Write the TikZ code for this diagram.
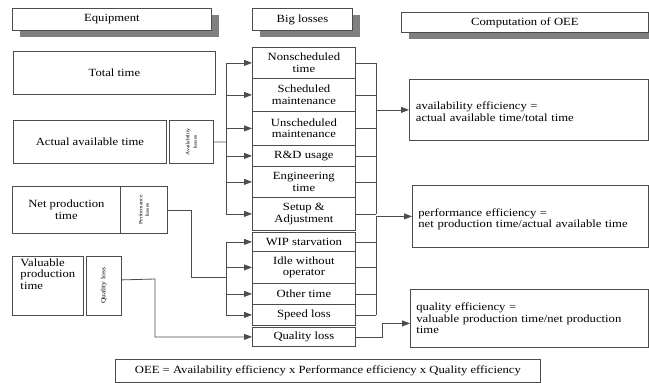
\documentclass[tikz,border=0pt]{standalone}
\usepackage{fontspec}
\setmainfont{Liberation Serif}[FakeStretch=1.15]
\usetikzlibrary{arrows.meta,shadows}

\begin{document}
\begin{tikzpicture}
  [x=1pt,y=-1pt,
   every node/.style={draw=black!70,line width=.8pt,inner sep=0pt,anchor=north west,
     font=\fontsize{11}{11.5}\selectfont,text=black,align=center},
   head/.style={fill=white,drop shadow={shadow xshift=8pt,shadow yshift=-7pt,fill=black!50,opacity=1}},
   tiny/.style={font=\fontsize{5}{5.5}\selectfont},
   arr/.style={draw=black!70,line width=.8pt,-{Triangle[length=8pt,width=6pt]}},
   ln/.style={draw=black!70,line width=.8pt}]
  \useasboundingbox (0,0) rectangle (649,383);

  % headers
  \node[head,minimum width=199pt,minimum height=22pt] (eqp) at (12,8) {Equipment};
  \node[head,minimum width=100pt,minimum height=22pt] (big) at (252,8) {Big losses};
  \node[head,minimum width=247pt,minimum height=20pt] (comp) at (401,12) {Computation of OEE};

  % equipment times
  \node[minimum width=202pt,minimum height=43pt] (tot) at (13,51) {Total time};
  \node[minimum width=153pt,minimum height=43pt] (aat) at (13,120) {Actual available time};
  \node[minimum width=44pt,minimum height=43pt,tiny] (avl) at (169,120)
    {\rotatebox{90}{\shortstack{Availability\\losses}}};
  \node[minimum width=108pt,minimum height=47pt] (npt) at (12,186) {Net production\\time};
  \node[minimum width=47pt,minimum height=47pt,tiny] (pfl) at (120,186)
    {\rotatebox{90}{\shortstack{Performance\\losses}}};
  \node[minimum width=71pt,minimum height=59pt,align=left,text depth=24pt] (vpt) at (12,256)
    {Valuable\\production\\time};
  \node[minimum width=35pt,minimum height=59pt,font=\fontsize{6.5}{6.5}\selectfont] (qll) at (86,256)
    {\rotatebox{90}{Quality loss}};

  % big losses
  \node[minimum width=103pt,minimum height=31pt] (nst) at (252,47) {Nonscheduled\\time};
  \node[minimum width=103pt,minimum height=33pt] (smt) at (252,78) {Scheduled\\maintenance};
  \node[minimum width=103pt,minimum height=34pt] (umt) at (252,111) {Unscheduled\\maintenance};
  \node[minimum width=103pt,minimum height=21pt] (rdu) at (252,145) {R\&D usage};
  \node[minimum width=103pt,minimum height=31pt] (eng) at (252,166) {Engineering\\time};
  \node[minimum width=103pt,minimum height=33pt] (set) at (252,197) {Setup \&\\Adjustment};
  \node[minimum width=103pt,minimum height=19pt] (wip) at (252,232) {WIP starvation};
  \node[minimum width=103pt,minimum height=32pt] (idl) at (252,251) {Idle without\\operator};
  \node[minimum width=103pt,minimum height=21pt] (oth) at (252,283) {Other time};
  \node[minimum width=103pt,minimum height=21pt] (spd) at (252,304) {Speed loss};
  \node[minimum width=103pt,minimum height=19pt] (qlo) at (252,327) {Quality loss};

  % efficiencies
  \node[minimum width=239pt,minimum height=61pt,align=left,text width=226pt,text depth=8pt] (aeff) at (409,79)
    {availability efficiency =\\actual available time/total time};
  \node[minimum width=236pt,minimum height=62pt,align=left,text width=224pt,text depth=8pt] (peff) at (412,185)
    {performance efficiency =\\net production time/actual available time};
  \node[minimum width=238pt,minimum height=58pt,align=left,text width=226pt] (qeff) at (410,289)
    {quality efficiency =\\valuable production time/net production\\time};
  \node[minimum width=425pt,minimum height=23pt] (oee) at (115,359)
    {OEE = Availability efficiency x Performance efficiency x Quality efficiency};

  % availability losses
  \coordinate (abus) at (226,142);
  \coordinate (rabus) at (376,142);
  \path[ln] (avl.east) -- (abus);
  \path[ln] (abus |- nst.west) -- (abus |- set.west);
  \foreach \n in {nst,smt,umt,rdu,eng,set}
    \path[arr] (abus |- \n.west) -- (\n.west);
  \foreach \n in {nst,smt,umt,rdu,eng,set}
    \path[ln] (\n.east) -- (rabus |- \n.east);
  \path[ln] (rabus |- nst.east) -- (rabus |- set.east);
  \path[arr] (rabus |- aeff.west) -- (aeff.west);

  % performance losses
  \coordinate (pk) at (191,277);
  \coordinate (pbus) at (226,277);
  \coordinate (rpbus) at (376,277);
  \path[ln] (pfl.east) -| (pk) -- (pbus);
  \path[ln] (pbus |- wip.west) -- (pbus |- spd.west);
  \foreach \n in {wip,idl,oth,spd}
    \path[arr] (pbus |- \n.west) -- (\n.west);
  \foreach \n in {wip,idl,oth,spd}
    \path[ln] (\n.east) -- (rpbus |- \n.east);
  \path[ln] (rpbus |- peff.west) -- (rpbus |- spd.east);
  \path[arr] (rpbus |- peff.west) -- (peff.west);

  % quality loss
  \coordinate (qk) at (155,279);
  \coordinate (qr) at (382,336);
  \path[arr] ([yshift=6pt]qll.east) -- (qk) |- (qlo.west);
  \path[arr] (qlo.east) -- (qlo.east -| qr) |- ([yshift=-5pt]qeff.west);

\end{tikzpicture}
\end{document}
